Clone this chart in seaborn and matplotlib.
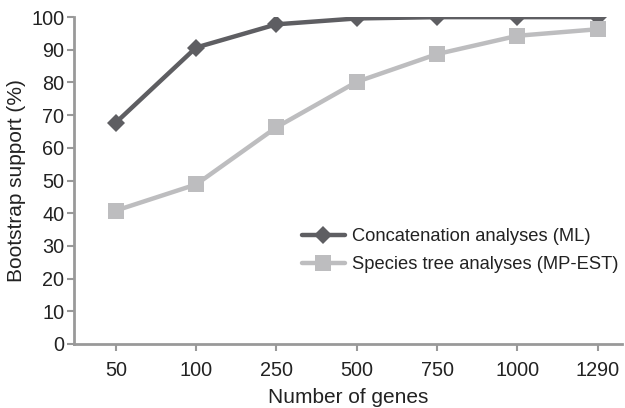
import pandas as pd
import matplotlib
matplotlib.use('Agg')
import matplotlib.pyplot as plt
import seaborn as sns

genes = ['50', '100', '250', '500', '750', '1000', '1290']
concat_ml = [67.7, 90.7, 97.8, 99.6, 100, 100, 100]
species_mpest = [40.8, 48.8, 66.3, 80.2, 88.7, 94.3, 96.3]

df = pd.DataFrame({
    'genes': genes * 2,
    'support': concat_ml + species_mpest,
    'analysis': ['Concatenation analyses (ML)'] * len(genes) + ['Species tree analyses (MP-EST)'] * len(genes),
})

sns.set_style('white')
plt.rcParams['font.family'] = ['Liberation Sans', 'DejaVu Sans']

fig = plt.figure(figsize=(6.25, 4.08), dpi=100)
ax = fig.add_axes([0.1184, 0.157, 0.8766, 0.801])

colors = {'Concatenation analyses (ML)': '#5e5e62', 'Species tree analyses (MP-EST)': '#bdbdbf'}
markers = {'Concatenation analyses (ML)': 'D', 'Species tree analyses (MP-EST)': 's'}
sizes = {'Concatenation analyses (ML)': 9, 'Species tree analyses (MP-EST)': 11}
for name, grp in df.groupby('analysis', sort=False):
    sns.lineplot(data=grp, x='genes', y='support', ax=ax, color=colors[name],
                 marker=markers[name], markersize=sizes[name], markeredgewidth=0,
                 linewidth=3.2, label=name)

ax.set_ylim(0, 100)
ax.set_xlim(-0.52, 6.3)
ax.set_yticks(range(0, 101, 10))
ax.set_xlabel('Number of genes', fontsize=15, color='#222222', labelpad=6)
ax.set_ylabel('Bootstrap support (%)', fontsize=15, color='#222222', labelpad=4)
ax.tick_params(axis='both', labelsize=14.3, colors='#222222', length=5, width=1.5,
               direction='out', left=True, bottom=True)
ax.tick_params(axis='both', color='#999999')
ax.xaxis.set_tick_params(pad=7)
ax.yaxis.set_tick_params(pad=2)
for side in ['top', 'right']:
    ax.spines[side].set_visible(False)
for side in ['left', 'bottom']:
    ax.spines[side].set_color('#999999')
    ax.spines[side].set_linewidth(2)

leg = ax.legend(loc='upper left', bbox_to_anchor=(0.416, 0.354), frameon=False,
                fontsize=13.2, handlelength=2.35, handletextpad=0.38, labelspacing=0.6,
                borderaxespad=0, borderpad=0)
for t in leg.get_texts():
    t.set_color('#222222')

fig.savefig('out.png', dpi=100)
